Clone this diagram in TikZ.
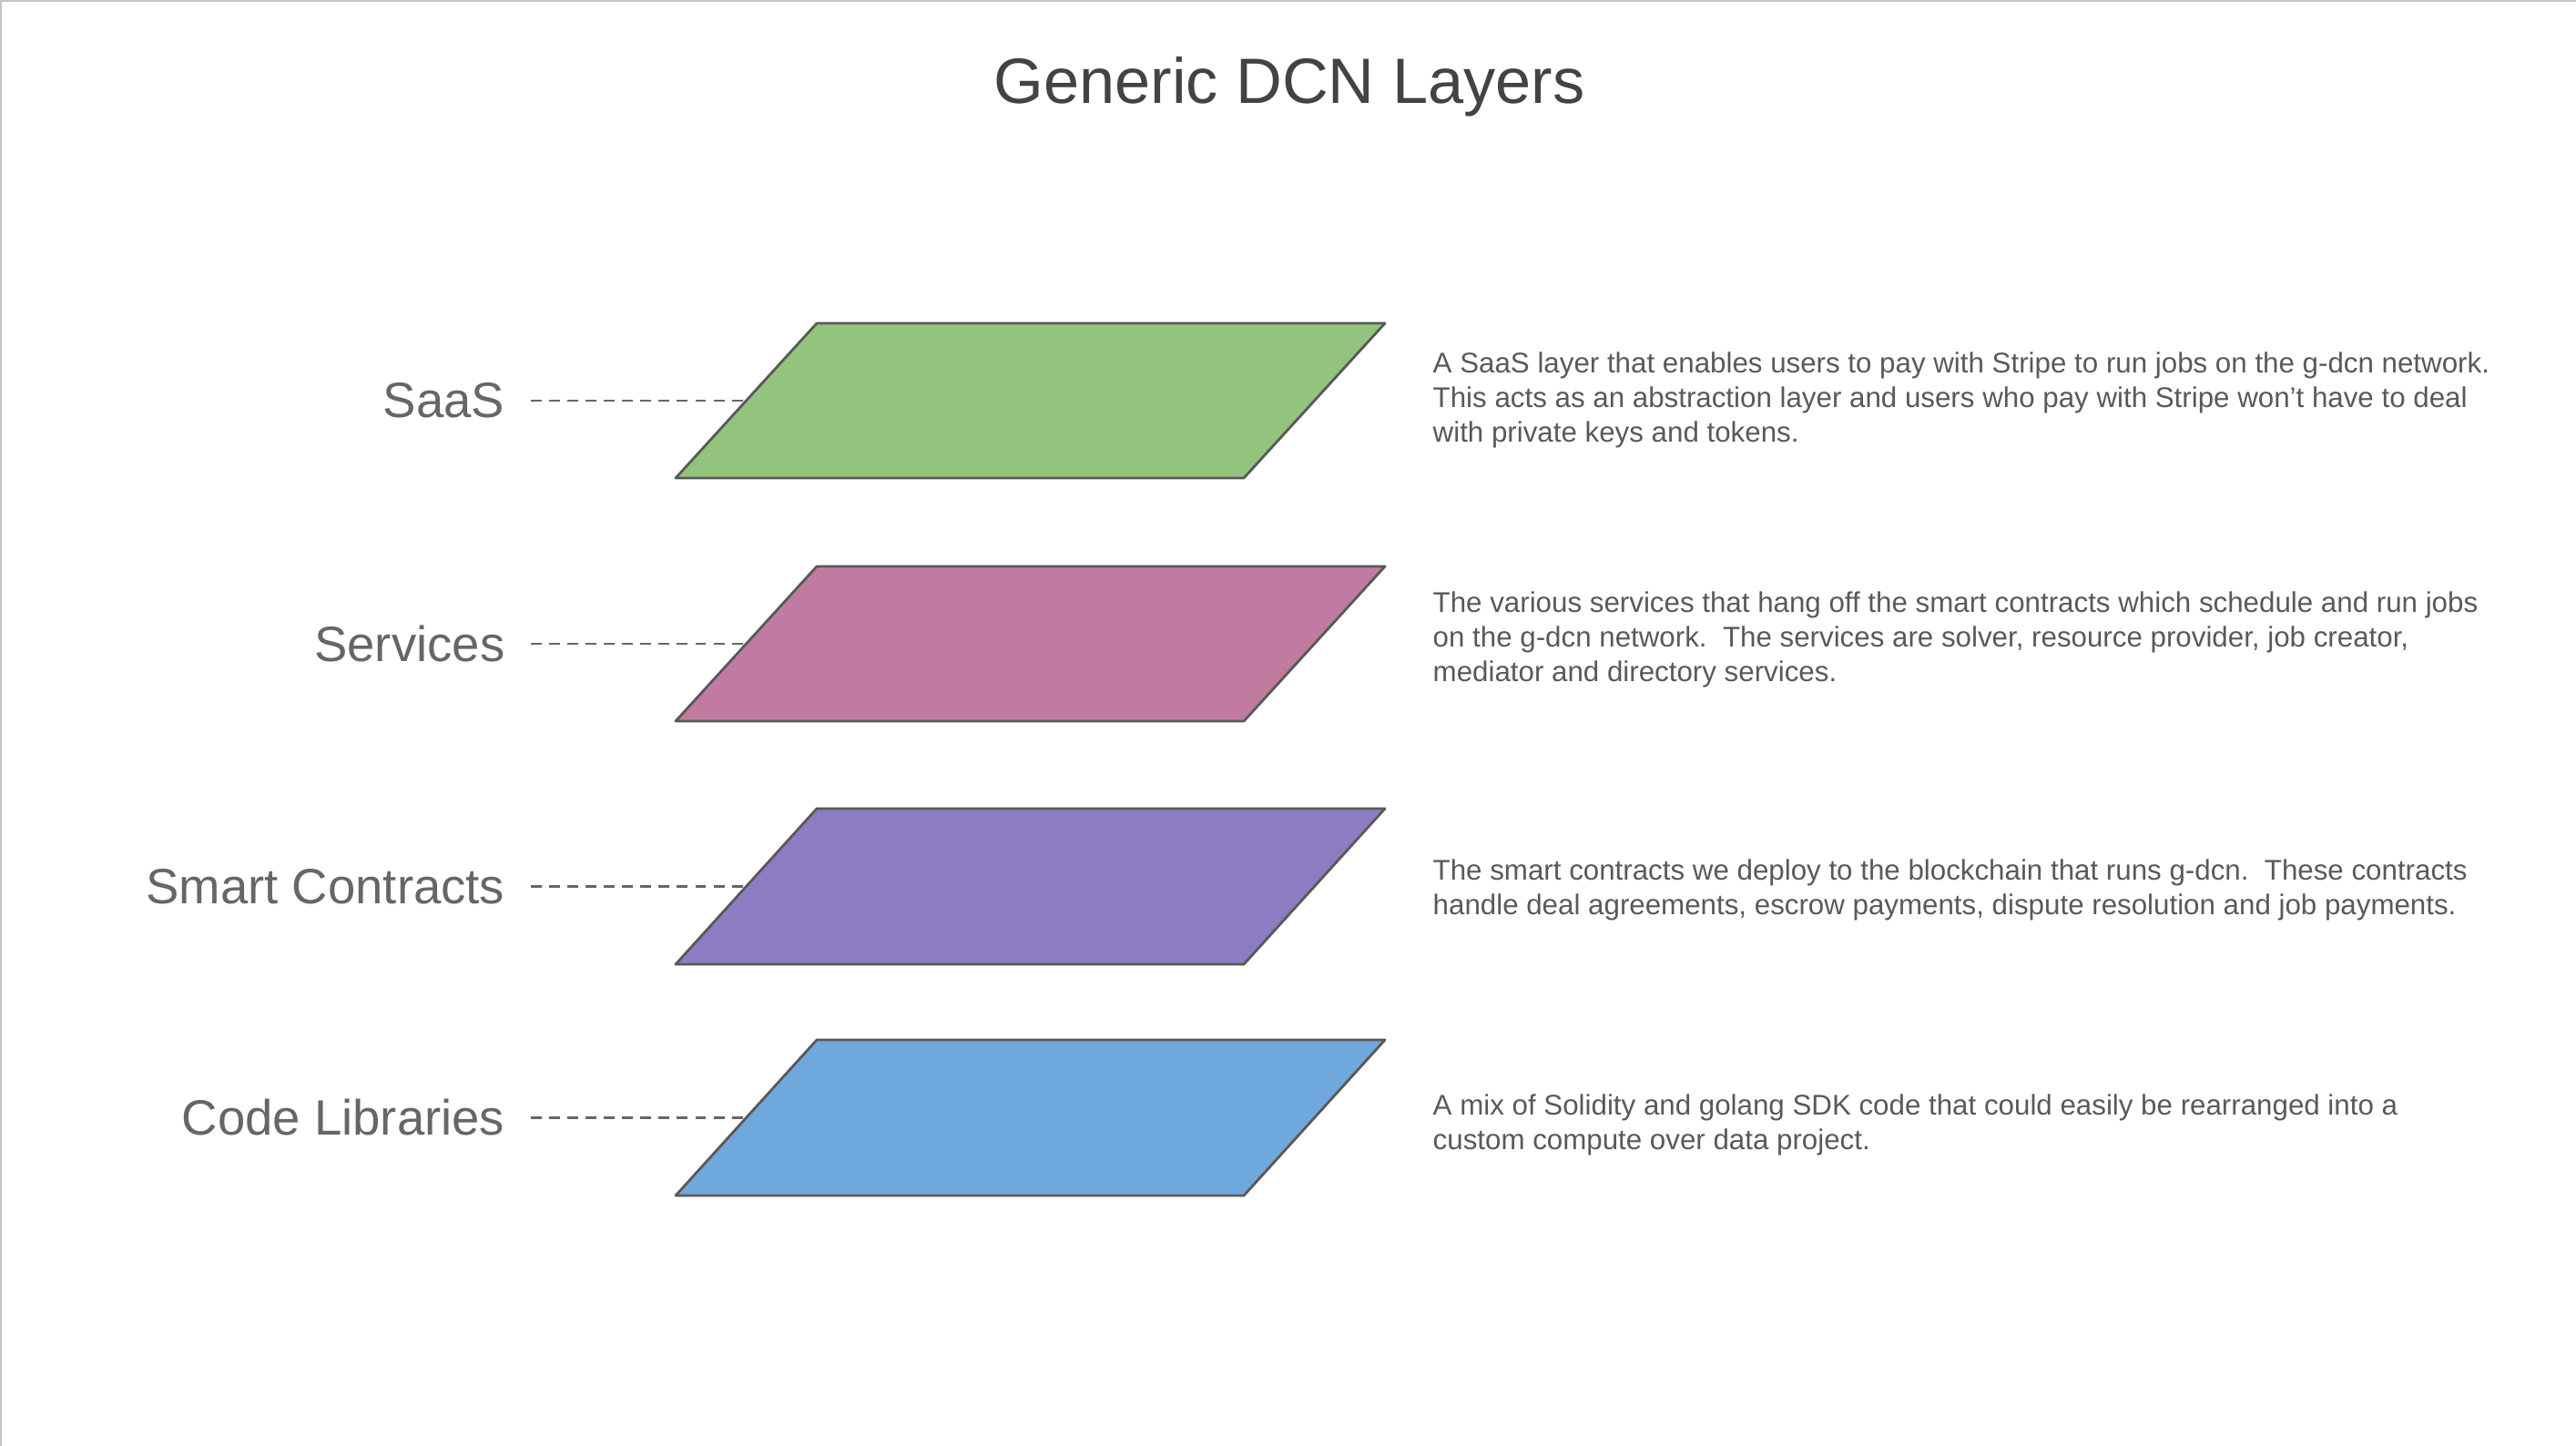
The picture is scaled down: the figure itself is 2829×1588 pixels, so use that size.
\documentclass[tikz,border=0pt]{standalone}
\usepackage{fontspec}
\setmainfont{Liberation Sans}
\usetikzlibrary{positioning}
\definecolor{saasgreen}{RGB}{147,196,125}
\definecolor{svcpink}{RGB}{194,123,160}
\definecolor{scpurple}{RGB}{142,124,195}
\definecolor{libblue}{RGB}{111,168,220}
\definecolor{edge}{RGB}{89,89,89}
\definecolor{titleink}{RGB}{67,67,67}
\definecolor{labelink}{RGB}{102,102,102}
\definecolor{descink}{RGB}{89,89,89}
\definecolor{framegray}{RGB}{196,196,196}
\tikzset{
  layer/.style={draw=edge,line width=0.8pt,line join=round,fill=#1},
  layer/.default=saasgreen,
  lbl/.style={anchor=east,inner sep=0pt,text=labelink,font=\fontsize{15.5}{18}\selectfont},
  desc/.style={anchor=west,inner sep=0pt,align=left,text=descink,font=\fontsize{8.9}{10.8}\selectfont},
  guide/.style={draw=labelink,line width=0.85pt,dash pattern=on 3.4pt off 2.3pt,shorten <=8pt},
}
\begin{document}
\begin{tikzpicture}[x=0.01cm,y=-0.01cm]
  \useasboundingbox (0,0) rectangle (2829,1588);
  \draw[framegray,line width=0.6pt] (1,1588) -- (1,1) -- (2829,1);
  \node[anchor=base,text=titleink,font=\fontsize{20}{24}\selectfont] (title) at (1416,114) {Generic DCN Layers};
  % layers
  \draw[layer=saasgreen] (742,525) -- (897,355) -- (1521,355) -- (1366,525) -- cycle;
  \draw[layer=svcpink] (742,792) -- (897,622) -- (1521,622) -- (1366,792) -- cycle;
  \draw[layer=scpurple] (742,1059) -- (897,888) -- (1521,888) -- (1366,1059) -- cycle;
  \draw[layer=libblue] (742,1313) -- (897,1142) -- (1521,1142) -- (1366,1313) -- cycle;
  \coordinate (saas) at (819.5,440);
  \coordinate (svc) at (819.5,707);
  \coordinate (sc) at (819.5,973.5);
  \coordinate (lib) at (819.5,1227.5);
  % labels
  \node[lbl] (saas lbl) at (555,440) {SaaS};
  \node[lbl] (svc lbl) at (555,707) {Services};
  \node[lbl] (sc lbl) at (555,973.5) {Smart Contracts};
  \node[lbl] (lib lbl) at (555,1227.5) {Code Libraries};
  \draw[guide] (saas lbl) -- (saas);
  \draw[guide] (svc lbl) -- (svc);
  \draw[guide] (sc lbl) -- (sc);
  \draw[guide] (lib lbl) -- (lib);
  % descriptions
  \node[desc] (saas txt) at (1573,439) {A SaaS layer that enables users to pay with Stripe to run jobs on the g-dcn network.\\This acts as an abstraction layer and users who pay with Stripe won’t have to deal\\with private keys and tokens.};
  \node[desc] (svc txt) at (1573,702) {The various services that hang off the smart contracts which schedule and run jobs\\on the g-dcn network.\ \ The services are solver, resource provider, job creator,\\mediator and directory services.};
  \node[desc] (sc txt) at (1573,977) {The smart contracts we deploy to the blockchain that runs g-dcn.\ \ These contracts\\handle deal agreements, escrow payments, dispute resolution and job payments.};
  \node[desc] (lib txt) at (1573,1235) {A mix of Solidity and golang SDK code that could easily be rearranged into a\\custom compute over data project.};
\end{tikzpicture}
\end{document}
